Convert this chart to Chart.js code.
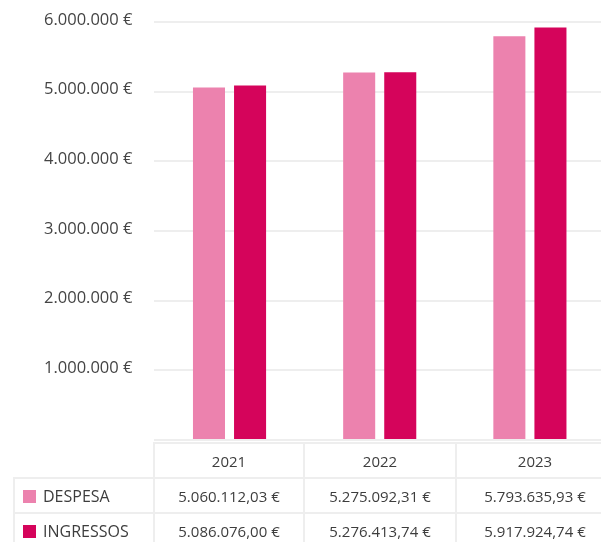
<!DOCTYPE html>
<html>
<head>
<meta charset="utf-8">
<script src="https://cdn.jsdelivr.net/npm/chart.js@4"></script>
<style>
  body { margin: 0; background: #fff; font-family: "Open Sans", sans-serif; color: #3d3d3d; }
  #wrap { position: relative; width: 601px; height: 542px; overflow: hidden; }
  #chart { position: absolute; left: 0; top: -10px; }
  table { position: absolute; left: 13px; top: 442px; width: 600px; table-layout: fixed;
          border-collapse: collapse; font-size: 15px; }
  td { border: 2px solid #eeeeee; height: 33px; padding: 0; text-align: center; }
  td.lbl { text-align: left; padding-left: 8px; font-size: 16px; }
  td.empty { border: none; border-bottom: 2px solid #eeeeee; border-right: 2px solid #eeeeee; }
  .sw { display: inline-block; width: 13px; height: 13px; vertical-align: -1px; margin-right: 7px; }
</style>
</head>
<body>
<div id="wrap">
  <canvas id="chart" width="605" height="482"></canvas>
  <table id="tbl">
    <colgroup><col style="width:140px"><col style="width:150px"><col style="width:152px"><col style="width:158px"></colgroup>
  </table>
</div>
<script>
// dades
const anys = ['2021', '2022', '2023'];
const despesa = [5060112.03, 5275092.31, 5793635.93];
const ingressos = [5086076.00, 5276413.74, 5917924.74];
const series = [
  { nom: 'DESPESA', dades: despesa, color: '#ec82ae' },
  { nom: 'INGRESSOS', dades: ingressos, color: '#d5045b' }
];

function euros(v, dec) {
  const parts = v.toFixed(dec).split('.');
  const ent = parts[0].replace(/\B(?=(\d{3})+(?!\d))/g, '.');
  return ent + (dec ? ',' + parts[1] : '') + ' €';
}

new Chart(document.getElementById('chart').getContext('2d'), {
  type: 'bar',
  data: {
    labels: anys,
    datasets: series.map(s => ({
      label: s.nom,
      data: s.dades,
      backgroundColor: s.color,
      categoryPercentage: 0.547,
      barPercentage: 0.78
    }))
  },
  options: {
    responsive: false,
    animation: false,
    layout: { padding: { top: 0, right: 0, bottom: 0, left: 22 } },
    plugins: { legend: { display: false }, tooltip: { enabled: false } },
    scales: {
      x: { display: false },
      y: {
        min: 0,
        max: 6000000,
        border: { display: false },
        grid: { color: '#eeeeee', lineWidth: 2, drawTicks: false },
        ticks: {
          stepSize: 1000000,
          padding: 22,
          labelOffset: -2,
          color: '#444',
          font: { family: 'Open Sans', size: 16.5 },
          callback: v => v === 0 ? '' : euros(v, 0)
        }
      }
    }
  }
});

// taula de dades
const tbl = document.getElementById('tbl');
let html = '<tr><td class="empty lbl"></td>' + anys.map(a => '<td>' + a + '</td>').join('') + '</tr>';
series.forEach(s => {
  html += '<tr><td class="lbl"><span class="sw" style="background:' + s.color + '"></span>' + s.nom + '</td>' +
    s.dades.map(v => '<td>' + euros(v, 2) + '</td>').join('') + '</tr>';
});
tbl.insertAdjacentHTML('beforeend', html);
</script>
</body>
</html>
